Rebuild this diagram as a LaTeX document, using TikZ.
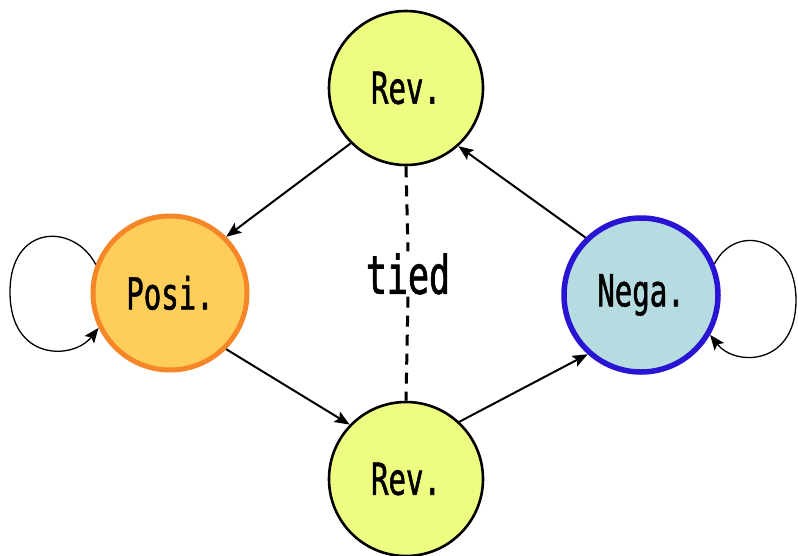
\documentclass[tikz,border=0pt]{standalone}
\usepackage{fontspec}
\usetikzlibrary{arrows.meta}
\newfontfamily\statefont[FakeStretch=0.66, FakeBold=1.2]{DejaVu Sans Mono}
\definecolor{revfill}{RGB}{238,252,130}
\definecolor{posifill}{RGB}{255,206,88}
\definecolor{posiline}{RGB}{245,135,40}
\definecolor{negafill}{RGB}{182,220,226}
\definecolor{negaline}{RGB}{40,20,210}
\begin{document}
\begin{tikzpicture}[x=1pt,y=-1pt,
  state/.style={circle, minimum size=154pt, inner sep=0pt,
    font=\statefont\fontsize{44}{44}\selectfont},
  rev/.style={state, draw=black, line width=2.6pt, fill=revfill},
  posi/.style={state, draw=posiline, line width=5pt, fill=posifill},
  nega/.style={state, draw=negaline, line width=5.5pt, fill=negafill},
  link/.style={draw=black, line width=2pt,
    -{Stealth[length=15pt, width=12pt, inset=3pt]}},
  loopline/.style={draw=black, line width=1.3pt,
    -{Stealth[length=15pt, width=12pt, inset=3pt]}},
  tie/.style={draw=black, line width=3pt, dash pattern=on 11pt off 8pt}]
  \useasboundingbox (0,0) rectangle (798,555);

  % the four states
  \node[rev]  (top)  at (406,88)  {Rev.};
  \node[posi] (posi) at (170,293) {Posi.};
  \node[nega] (nega) at (641,295) {Nega.};
  \node[rev]  (bot)  at (406,479) {Rev.};

  % tie between the two Rev. states
  \node[font=\statefont\fontsize{53}{53}\selectfont, inner sep=2pt]
    (tied) at (408,274) {tied};
  \draw[tie] (top.south) -- (tied.north);
  \draw[tie] (tied.south) -- (bot.north);

  % transitions around the cycle
  \draw[link] (top.225)  -- (posi.45);
  \draw[link] (posi.315) -- (bot.136);
  \draw[link] (bot.47)   -- (nega.228);
  \draw[link] (nega.134) -- (top.312);

  % self loops
  \coordinate (pl) at (10,292);
  \coordinate (nr) at (796,300);
  \draw[loopline] (posi.159) .. controls +(-22,-42) and +(0,-68) .. (pl)
                  .. controls +(0,70) and +(-25,32) .. (posi.206);
  \draw[loopline] (nega.23) .. controls +(22,-42) and +(0,-62) .. (nr)
                  .. controls +(0,66) and +(25,32) .. (nega.330);
\end{tikzpicture}
\end{document}
